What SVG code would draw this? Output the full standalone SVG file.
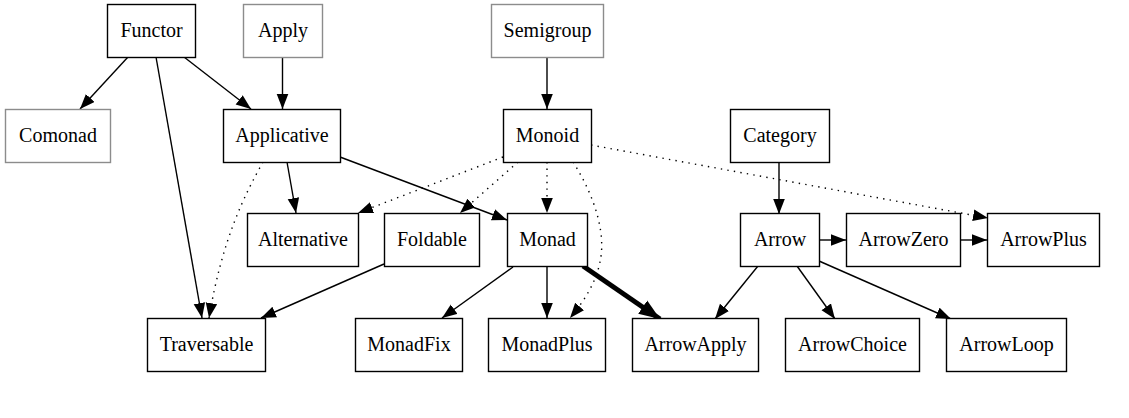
<svg xmlns="http://www.w3.org/2000/svg" width="1129" height="418" viewBox="0 0 1129 418">
  <style>
    .node rect { fill: #fff; stroke: #000; stroke-width: 1.4; }
    .node.aux rect { stroke: #8c8c8c; }
    .node text { font-family: "Liberation Serif", "Times New Roman", serif; font-size: 20px; fill: #000; text-anchor: middle; }
    .edge { fill: none; stroke: #000; stroke-width: 1.4; marker-end: url(#head); }
    .edge.dot { stroke-dasharray: 1.4 5.2; }
    .edge.bold { stroke-width: 5; marker-end: url(#headBold); }
  </style>
  <defs>
    <marker id="head" markerUnits="userSpaceOnUse" markerWidth="16" markerHeight="13" refX="15" refY="6" orient="auto">
      <path d="M0,0.2 L15,6 L0,11.8 z" fill="#000"/>
    </marker>
    <marker id="headBold" markerUnits="userSpaceOnUse" markerWidth="23" markerHeight="18" refX="21" refY="8.5" orient="auto">
      <path d="M0,0.5 L21,8.5 L0,16.5 z" fill="#000"/>
    </marker>
  </defs>
  <rect width="1129" height="418" fill="#fff"/>

  <g id="edges">
    <path class="edge" d="M128,57 L80,109"/>
    <path class="edge" d="M184,57 L251,109"/>
    <path class="edge" d="M156,57 L202,318"/>
    <path class="edge" d="M282.5,57 L282.5,109"/>
    <path class="edge" d="M287,162 L296,213"/>
    <path class="edge dot" d="M263,162 C244,196 222,240 209,318"/>
    <path class="edge" d="M340,157 L507,220"/>
    <path class="edge" d="M547,57 L547,109"/>
    <path class="edge dot" d="M503,157 L358,213"/>
    <path class="edge dot" d="M518,162 L460,213"/>
    <path class="edge dot" d="M547,162 L547,213"/>
    <path class="edge dot" d="M573,162 C596,198 606,235 600,262 C596,282 585,300 570,318"/>
    <path class="edge dot" d="M591,145 L988,218"/>
    <path class="edge" d="M779,162 L779,214"/>
    <path class="edge" d="M819,240 L846,240"/>
    <path class="edge" d="M960,240 L987,240"/>
    <path class="edge" d="M758,266 L715,319"/>
    <path class="edge" d="M797,266 L835,319"/>
    <path class="edge" d="M819,261 L951,319"/>
    <path class="edge bold" d="M583,266 L660,319"/>
    <path class="edge" d="M513,267 L442,318"/>
    <path class="edge" d="M547,267 L547,318"/>
    <path class="edge" d="M384,264 L261,318"/>
  </g>

  <g id="Functor" class="node"><rect x="107.5" y="4.5" width="88" height="53"/><text x="151.5" y="37">Functor</text></g>
  <g id="Apply" class="node aux"><rect x="243.5" y="4.5" width="79" height="53"/><text x="283" y="37">Apply</text></g>
  <g id="Semigroup" class="node aux"><rect x="491.5" y="4.5" width="112" height="53"/><text x="547.5" y="37">Semigroup</text></g>
  <g id="Comonad" class="node aux"><rect x="5.5" y="109.5" width="105" height="53"/><text x="58" y="142">Comonad</text></g>
  <g id="Applicative" class="node"><rect x="223.5" y="109.5" width="117" height="53"/><text x="282" y="142">Applicative</text></g>
  <g id="Monoid" class="node"><rect x="503.5" y="109.5" width="88" height="53"/><text x="547.5" y="142">Monoid</text></g>
  <g id="Category" class="node"><rect x="730.5" y="109.5" width="99" height="53"/><text x="780" y="142">Category</text></g>
  <g id="Alternative" class="node"><rect x="247.5" y="213.5" width="111" height="53"/><text x="303" y="246">Alternative</text></g>
  <g id="Foldable" class="node"><rect x="384.5" y="213.5" width="95" height="53"/><text x="432" y="246">Foldable</text></g>
  <g id="Monad" class="node"><rect x="507.5" y="213.5" width="80" height="53"/><text x="547.5" y="246">Monad</text></g>
  <g id="Arrow" class="node"><rect x="740.5" y="213.5" width="79" height="53"/><text x="780" y="246">Arrow</text></g>
  <g id="ArrowZero" class="node"><rect x="846.5" y="213.5" width="114" height="53"/><text x="903.5" y="246">ArrowZero</text></g>
  <g id="ArrowPlus" class="node"><rect x="987.5" y="213.5" width="112" height="53"/><text x="1043.5" y="246">ArrowPlus</text></g>
  <g id="Traversable" class="node"><rect x="147.5" y="318.5" width="118" height="53"/><text x="206.5" y="351">Traversable</text></g>
  <g id="MonadFix" class="node"><rect x="355.5" y="318.5" width="107" height="53"/><text x="409" y="351">MonadFix</text></g>
  <g id="MonadPlus" class="node"><rect x="488.5" y="318.5" width="117" height="53"/><text x="547" y="351">MonadPlus</text></g>
  <g id="ArrowApply" class="node"><rect x="632.5" y="318.5" width="126" height="53"/><text x="695.5" y="351">ArrowApply</text></g>
  <g id="ArrowChoice" class="node"><rect x="785.5" y="318.5" width="134" height="53"/><text x="852.5" y="351">ArrowChoice</text></g>
  <g id="ArrowLoop" class="node"><rect x="946.5" y="318.5" width="120" height="53"/><text x="1006.5" y="351">ArrowLoop</text></g>
</svg>
